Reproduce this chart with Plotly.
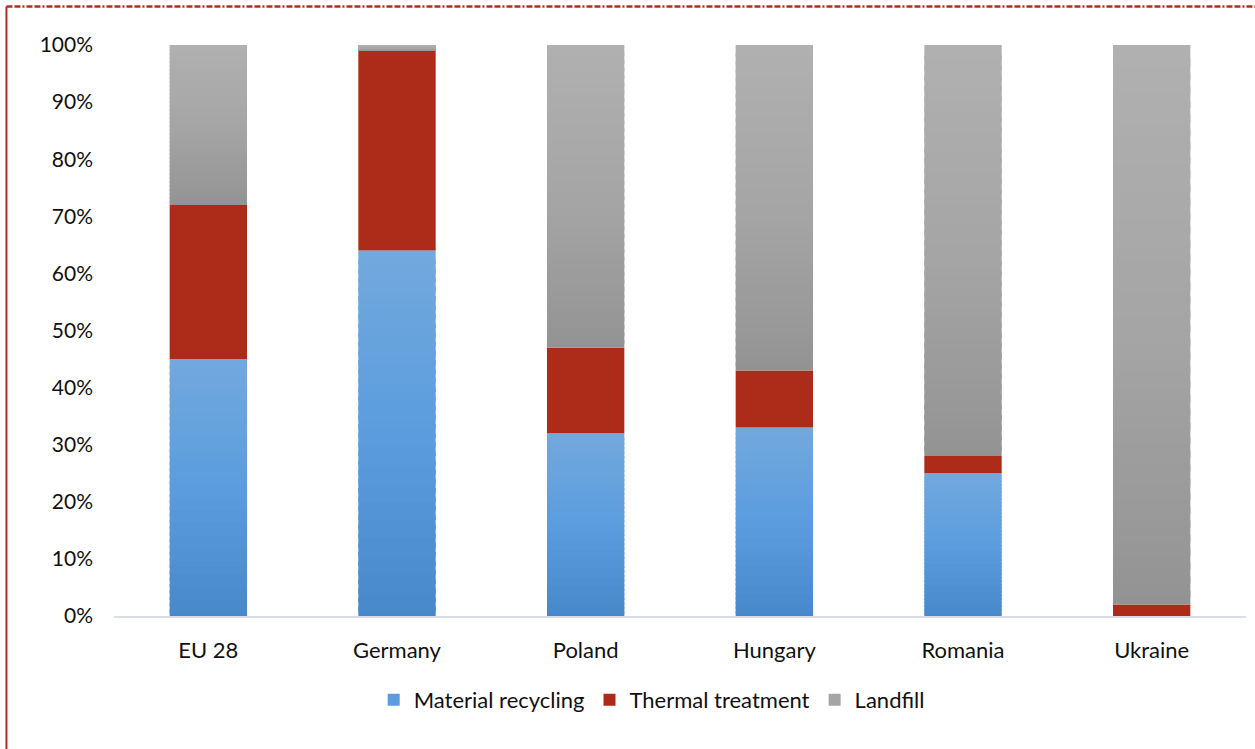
import plotly.graph_objects as go

# Waste treatment shares by country (fraction of total)
countries = ["EU 28", "Germany", "Poland", "Hungary", "Romania", "Ukraine"]
material_recycling = [0.45, 0.64, 0.32, 0.33, 0.25, 0.00]
thermal_treatment = [0.27, 0.35, 0.15, 0.10, 0.03, 0.02]
landfill = [0.28, 0.01, 0.53, 0.57, 0.72, 0.98]

series_names = ["Material recycling", "Thermal treatment", "Landfill"]
series_values = [material_recycling, thermal_treatment, landfill]

# vertical gradient stops per series: (top, middle, bottom)
gradients = [
    ("#72A8DD", "#5A9CDE", "#4688C8"),
    ("#AD2B19", "#AD2B19", "#AD2B19"),
    ("#B0B0B0", "#A5A5A5", "#939393"),
]
slices_per_segment = [40, 1, 40]

FONT = "Lato"
TEXT = "#111111"
BORDER = "#B0301E"


def hex_to_rgb(h):
    h = h.lstrip("#")
    return tuple(int(h[i:i + 2], 16) for i in (0, 2, 4))


def blend(stops, t):
    """t = 0 at top of segment, 1 at bottom."""
    a, m, b = (hex_to_rgb(s) for s in stops)
    if t <= 0.5:
        u = t / 0.5
        c = [a[i] + (m[i] - a[i]) * u for i in range(3)]
    else:
        u = (t - 0.5) / 0.5
        c = [m[i] + (b[i] - m[i]) * u for i in range(3)]
    return "rgb({:.0f},{:.0f},{:.0f})".format(*c)


fig = go.Figure()

bottoms = [0.0] * len(countries)
for name, vals, stops, n in zip(series_names, series_values, gradients, slices_per_segment):
    for k in range(n):
        # slice k runs upward from the bottom of each segment; slices above the
        # first reach half a slice downward so no seam shows between them
        t = 1 - (k + 0.5) / n
        lo = k - 0.5 if k > 0 else k
        fig.add_trace(go.Bar(
            x=countries,
            y=[v * (k + 1 - lo) / n for v in vals],
            base=[b + v * lo / n for b, v in zip(bottoms, vals)],
            marker=dict(color=blend(stops, t), line=dict(width=0)),
            name=name,
            legendgroup=name,
            showlegend=(k == n // 2),
            hovertemplate=name + ": %{customdata:.0%}<extra>%{x}</extra>",
            customdata=vals,
        ))
    bottoms = [b + v for b, v in zip(bottoms, vals)]

# frame around the figure: dash-dot top edge, solid left edge
fig.add_shape(type="line", xref="paper", yref="paper",
              x0=-0.095, x1=1.01, y0=1.0674, y1=1.0674,
              line=dict(color=BORDER, width=2.5, dash="6px,2px,6px,2px,2px,2px"))
fig.add_shape(type="line", xref="paper", yref="paper",
              x0=-0.095, x1=-0.095, y0=1.0674, y1=-0.25,
              line=dict(color=BORDER, width=2))

fig.update_layout(
    width=1255,
    height=749,
    margin=dict(l=114, r=9, t=45, b=133),
    paper_bgcolor="white",
    plot_bgcolor="white",
    barmode="overlay",
    bargap=0.59,
    font=dict(family=FONT, size=22, color=TEXT),
    showlegend=True,
    legend=dict(
        orientation="h",
        x=0.475, xanchor="center",
        y=-0.147, yanchor="middle",
        font=dict(family=FONT, size=22, color=TEXT),
        traceorder="normal",
        itemclick=False,
        itemdoubleclick=False,
    ),
    xaxis=dict(
        showgrid=False,
        showline=True,
        linecolor="#D9DCE3",
        linewidth=1.5,
        ticks="",
        ticklabelstandoff=14,
        tickfont=dict(family=FONT, size=22, color=TEXT),
    ),
    yaxis=dict(
        range=[0, 1],
        dtick=0.1,
        tickformat=".0%",
        showgrid=False,
        zeroline=False,
        showline=False,
        ticks="",
        ticklabelstandoff=20,
        tickfont=dict(family=FONT, size=21, color=TEXT),
    ),
)

fig.write_html("out.html")
